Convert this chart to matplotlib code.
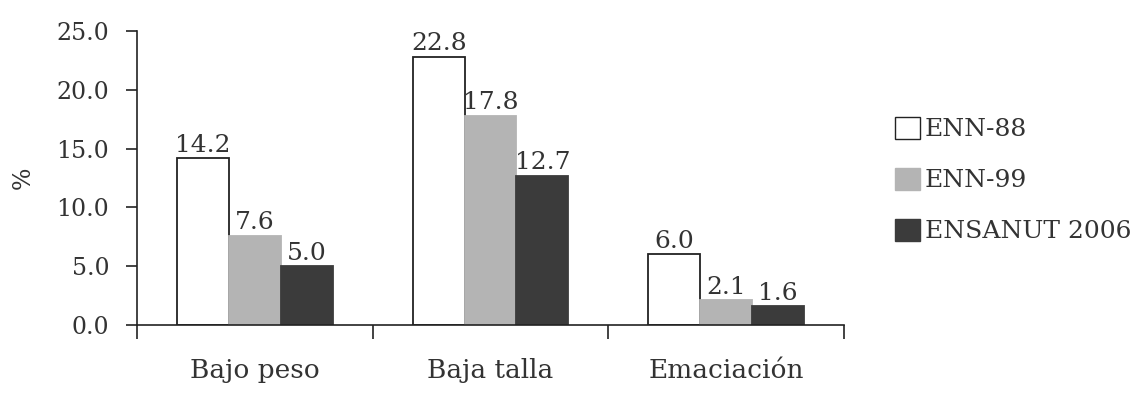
import matplotlib.pyplot as plt
from matplotlib.patches import Patch
import numpy as np

categories = ["Bajo peso", "Baja talla", "Emaciación"]
series_names = ["ENN-88", "ENN-99", "ENSANUT 2006"]
enn88 = [14.2, 22.8, 6.0]
enn99 = [7.6, 17.8, 2.1]
ensanut06 = [5.0, 12.7, 1.6]
yticks = [0, 5, 10, 15, 20, 25]

fill_colors = ["white", "#b4b4b4", "#3b3b3b"]
text_color = "#333333"

plt.rcParams['font.family'] = ['DejaVu Serif']

fig = plt.figure(figsize=(11.42, 4.0), dpi=100, facecolor="white")
ax = fig.add_axes([0.12, 0.1875, 0.619, 0.735])

x = np.arange(len(categories))
width = 0.22
offsets = [-0.22, 0.0, 0.22]
for vals, off, fc in zip([enn88, enn99, ensanut06], offsets, fill_colors):
    bars = ax.bar(x + off, vals, width, color=fc,
                  edgecolor="#222222" if fc == "white" else fc, linewidth=1.3)
    ax.bar_label(bars, labels=["%.1f" % v for v in vals], padding=1,
                 fontsize=18, color=text_color)

ax.set_xlim(-0.5, 2.5)
ax.set_ylim(0, 25)
ax.set_yticks(yticks)
ax.set_yticklabels(["%.1f" % t for t in yticks], fontsize=17, color=text_color)

# category labels at centres, tick marks at the group boundaries
ax.set_xticks(x)
ax.set_xticklabels(categories, fontsize=19, color=text_color)
ax.tick_params(axis='x', which='major', length=0, pad=24)
ax.set_xticks([-0.5, 0.5, 1.5, 2.5], minor=True)
ax.tick_params(axis='x', which='minor', length=10, width=1.2, direction='out', color="#222222")
ax.tick_params(axis='y', length=8, width=1.2, color="#222222", pad=12)

for s in ['top', 'right']:
    ax.spines[s].set_visible(False)
for s in ['left', 'bottom']:
    ax.spines[s].set_linewidth(1.2)
    ax.spines[s].set_color("#222222")

ax.set_ylabel("%", fontsize=17, color=text_color, labelpad=16)

handles = [Patch(facecolor=fc, edgecolor="#222222" if fc == "white" else fc, linewidth=1.0)
           for fc in fill_colors]
fig.legend(handles, series_names, loc='center left', bbox_to_anchor=(0.764, 0.55),
           frameon=False, fontsize=18, handlelength=1.0, handleheight=1.0,
           handletextpad=0.2, labelspacing=1.05, labelcolor=text_color)

plt.savefig("out.png", dpi=100, facecolor="white")
